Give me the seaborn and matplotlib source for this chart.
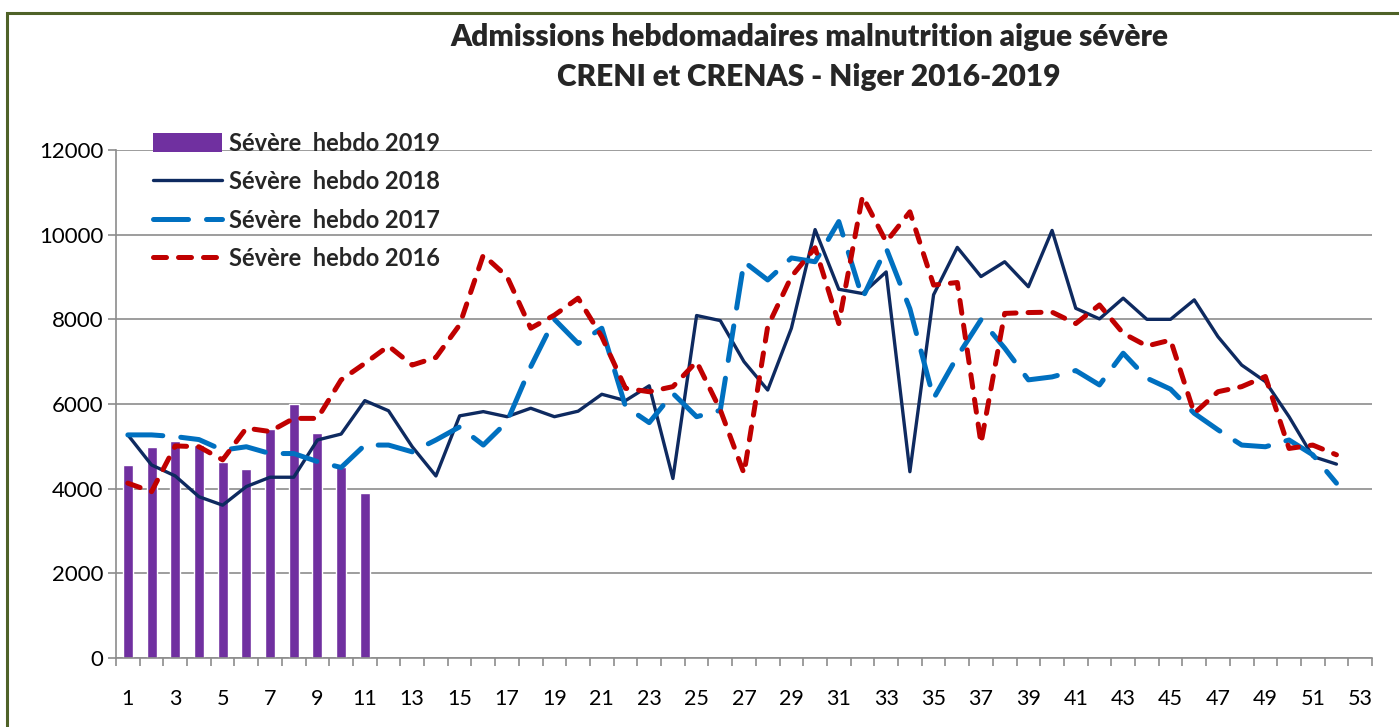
import matplotlib
matplotlib.use("Agg")
import matplotlib.pyplot as plt
import seaborn as sns
import pandas as pd
import numpy as np
from matplotlib.patches import Rectangle, Patch
from matplotlib.lines import Line2D
from matplotlib.ticker import MultipleLocator, FixedLocator

weeks_all = list(range(1, 54))
weeks_2019 = list(range(1, 12))
sev_2019 = [4560, 4990, 5120, 5040, 4620, 4460, 5410, 6000, 5310, 4520, 3900]

weeks = list(range(1, 53))
sev_2018 = [5270, 4560, 4300, 3810, 3610, 4050, 4270, 4270, 5150, 5290,
            6080, 5840, 4990, 4300, 5720, 5820, 5700, 5900, 5700, 5830,
            6230, 6080, 6430, 4240, 8090, 7970, 7000, 6330, 7790, 10120,
            8710, 8610, 9120, 4400, 8580, 9700, 9010, 9360, 8770, 10100,
            8260, 8010, 8500, 8000, 8000, 8460, 7590, 6920, 6530, 5700,
            4760, 4580]
sev_2017 = [5270, 5270, 5230, 5160, 4910, 4990, 4830, 4830, 4640, 4500,
            5030, 5030, 4870, 5150, 5460, 5030, 5580, 6880, 8000, 7430,
            7790, 5940, 5560, 6250, 5700, 5850, 9360, 8930, 9450, 9360,
            10310, 8500, 9680, 8250, 6130, 7120, 7990, 7320, 6570, 6640,
            6790, 6450, 7200, 6610, 6350, 5780, 5390, 5030, 4990, 5150,
            4800, 4130]
sev_2016 = [4130, 3930, 5010, 4990, 4680, 5430, 5350, 5660, 5660, 6570,
            6960, 7370, 6920, 7100, 7870, 9520, 9010, 7790, 8100, 8500,
            7590, 6370, 6290, 6410, 7000, 5860, 4360, 7830, 9010, 9690,
            7900, 10910, 9830, 10540, 8810, 8870, 5070, 8140, 8160, 8170,
            7900, 8340, 7670, 7370, 7510, 5780, 6290, 6410, 6650, 4950,
            5030, 4800]

labels = ["Sévère  hebdo 2019", "Sévère  hebdo 2018",
          "Sévère  hebdo 2017", "Sévère  hebdo 2016"]
title = "Admissions hebdomadaires malnutrition aigue sévère\nCRENI et CRENAS - Niger 2016-2019"

c_2019 = "#7030A0"
c_2018 = "#0E2A60"
c_2017 = "#0070C0"
c_2016 = "#C00000"
dash17 = [7, 3.6]
dash16 = [2.6, 2.4]

sns.set_theme(style="white")
plt.rcParams["font.family"] = ["Lato", "DejaVu Sans"]

fig = plt.figure(figsize=(13.99, 7.27), dpi=100)
ax = fig.add_axes([116/1399, 1-658/727, (1372-116)/1399, (658-150)/727])

df19 = pd.DataFrame({"week": weeks_2019, "val": sev_2019})
sns.barplot(data=df19, x="week", y="val", native_scale=True, width=0.42,
            color=c_2019, saturation=1, ax=ax, zorder=2, errorbar=None)

df = pd.DataFrame({"week": weeks, "y2018": sev_2018, "y2017": sev_2017, "y2016": sev_2016})
sns.lineplot(data=df, x="week", y="y2018", ax=ax, color=c_2018, lw=2.4, zorder=3)
sns.lineplot(data=df, x="week", y="y2017", ax=ax, color=c_2017, lw=3.6, zorder=3)
ln17 = ax.get_lines()[-1]
ln17.set_dashes(dash17)
ln17.set_dash_capstyle("round")
sns.lineplot(data=df, x="week", y="y2016", ax=ax, color=c_2016, lw=3.6, zorder=4)
ln16 = ax.get_lines()[-1]
ln16.set_dashes(dash16)
ln16.set_dash_capstyle("round")

ax.set_xlim(0.5, 53.5)
ax.set_ylim(0, 12000)
ax.yaxis.set_major_locator(MultipleLocator(2000))
ax.xaxis.set_major_locator(FixedLocator(weeks_all[::2]))
ax.set_xticklabels([str(w) for w in weeks_all[::2]])
ax.xaxis.set_minor_locator(FixedLocator(np.arange(0.5, 54, 1)))
ax.grid(axis="y", color="#8C8C8C", lw=1.2, zorder=0)
ax.set_axisbelow(True)
for s in ["top", "right"]:
    ax.spines[s].set_visible(False)
for s in ["left", "bottom"]:
    ax.spines[s].set_color("#8C8C8C")
    ax.spines[s].set_linewidth(1.2)
ax.tick_params(axis="x", which="major", length=0, pad=22, labelsize=15.5, colors="black")
ax.tick_params(axis="x", which="minor", length=6, width=1.2, color="#8C8C8C", bottom=True)
ax.tick_params(axis="y", which="major", length=6, width=1.2, color="#8C8C8C", left=True,
               pad=3, labelsize=16, labelcolor="black")
ax.set_xlabel("")
ax.set_ylabel("")

handles = [Patch(facecolor=c_2019, edgecolor="none"),
           Line2D([], [], color=c_2018, lw=2.4),
           Line2D([], [], color=c_2017, lw=3.6, dashes=dash17, dash_capstyle="round"),
           Line2D([], [], color=c_2016, lw=3.6, dashes=dash16, dash_capstyle="round")]
leg = ax.legend(handles, labels, loc="upper left", bbox_to_anchor=(0.022, 1.055),
                frameon=False, handlelength=2.9, handleheight=0.9, handletextpad=0.3,
                labelspacing=0.66, borderaxespad=0, prop={"weight": "bold", "size": 17})

fig.text(809/1399, 1-57/727, title, ha="center", va="center", fontsize=21.5,
         fontweight="heavy", linespacing=1.5)

fig.patches.append(Rectangle((7/1399, -0.05), 1.1, 1-13/727+0.05, transform=fig.transFigure,
                             fill=False, edgecolor="#4F6228", lw=2.2))

fig.savefig("out.png", dpi=100)
